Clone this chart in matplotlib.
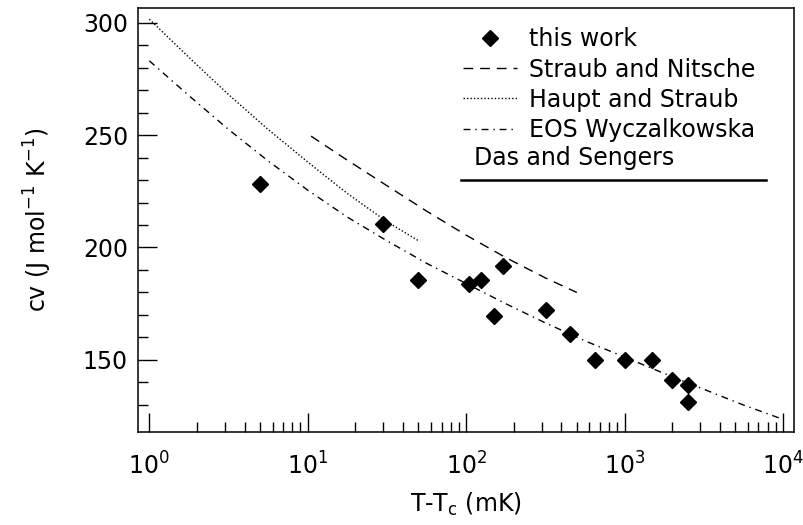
import matplotlib
matplotlib.use("Agg")
import matplotlib.pyplot as plt
from matplotlib.ticker import MultipleLocator, LogLocator, FixedLocator, NullFormatter

plt.rcParams['font.family'] = ['DejaVu Sans']
plt.rcParams['mathtext.default'] = 'regular'

# measured points (this work)
dT_work = [5, 30, 50, 105, 125, 150, 170, 320, 450, 650, 1000, 1500, 2000, 2500, 2500]
cv_work = [228.4, 210.6, 185.6, 183.8, 185.4, 169.4, 191.7, 172.4, 161.6, 150.2, 150.2, 150.2, 140.9, 138.8, 131.3]

# Straub and Nitsche
dT_sn = [10.5, 17.8, 31.6, 56.2, 100, 178, 316, 500]
cv_sn = [249.5, 238.8, 227.5, 216.2, 205.5, 195.5, 186.5, 180.0]

# Haupt and Straub
dT_hs = [1.0, 1.78, 3.16, 5.62, 10, 17.8, 31.6, 50]
cv_hs = [301.5, 284.5, 268.0, 252.5, 238.0, 224.0, 211.5, 203.0]

# EOS Wyczalkowska
dT_eos = [1.0, 1.78, 3.16, 5.62, 10, 17.8, 31.6, 56.2, 100, 178, 316, 562, 1000, 1780, 3160, 5620, 10000]
cv_eos = [283.0, 267.5, 252.5, 238.5, 225.5, 213.5, 203.0, 193.0, 184.0, 175.0, 166.5, 158.5,
          151.3, 144.0, 137.0, 130.0, 123.6]

fig = plt.figure(figsize=(8.04, 5.25), dpi=100)
ax = fig.add_axes([0.1713, 0.1777, 0.8163, 0.808])

ax.plot(dT_sn, cv_sn, color='black', lw=1.0, ls=(0, (7, 5)), label='Straub and Nitsche')
ax.plot(dT_hs, cv_hs, color='black', lw=1.0, ls=(0, (1, 1.5)), label='Haupt and Straub')
ax.plot(dT_eos, cv_eos, color='black', lw=1.0, ls=(0, (5, 3.5, 1, 3.5)), label='EOS Wyczalkowska')
ax.plot(dT_work, cv_work, ls='none', marker='D', ms=8.5, color='black', label='this work')

ax.set_xscale('log')
ax.set_xlim(0.845, 11750)
ax.set_ylim(118.1, 306.7)

ax.yaxis.set_major_locator(MultipleLocator(50))
ax.yaxis.set_minor_locator(FixedLocator(list(range(130, 310, 10))))
ax.xaxis.set_major_locator(LogLocator(base=10))
ax.xaxis.set_minor_locator(FixedLocator([k * 10 ** d for d in range(4) for k in range(2, 10)]))
ax.xaxis.set_minor_formatter(NullFormatter())

ax.tick_params(which='both', direction='in', top=False, right=False, width=1.0, colors='black', labelsize=17)
ax.tick_params(which='major', length=14)
ax.tick_params(which='minor', length=7)
ax.tick_params(axis='x', pad=15)
ax.tick_params(axis='y', pad=7)
for s in ax.spines.values():
    s.set_linewidth(1.1)

ax.set_xlabel('T-T$_c$ (mK)', fontsize=17, labelpad=8)
ax.set_ylabel('cv (J mol$^{-1}$ K$^{-1}$)', fontsize=17, labelpad=21)

handles, labels = ax.get_legend_handles_labels()
order = [3, 0, 1, 2]
ax.legend([handles[i] for i in order], [labels[i] for i in order],
          loc='upper left', bbox_to_anchor=(0.47, 0.992), frameon=False,
          fontsize=17, handlelength=2.3, handletextpad=0.5,
          labelspacing=0.26, borderpad=0.2)

ax.text(0.5127, 0.645, 'Das and Sengers', transform=ax.transAxes, fontsize=17, va='center', ha='left')
ax.plot([0.4926, 0.957], [0.593, 0.593], transform=ax.transAxes, color='black', lw=1.8)

fig.savefig('out.png', dpi=100)
